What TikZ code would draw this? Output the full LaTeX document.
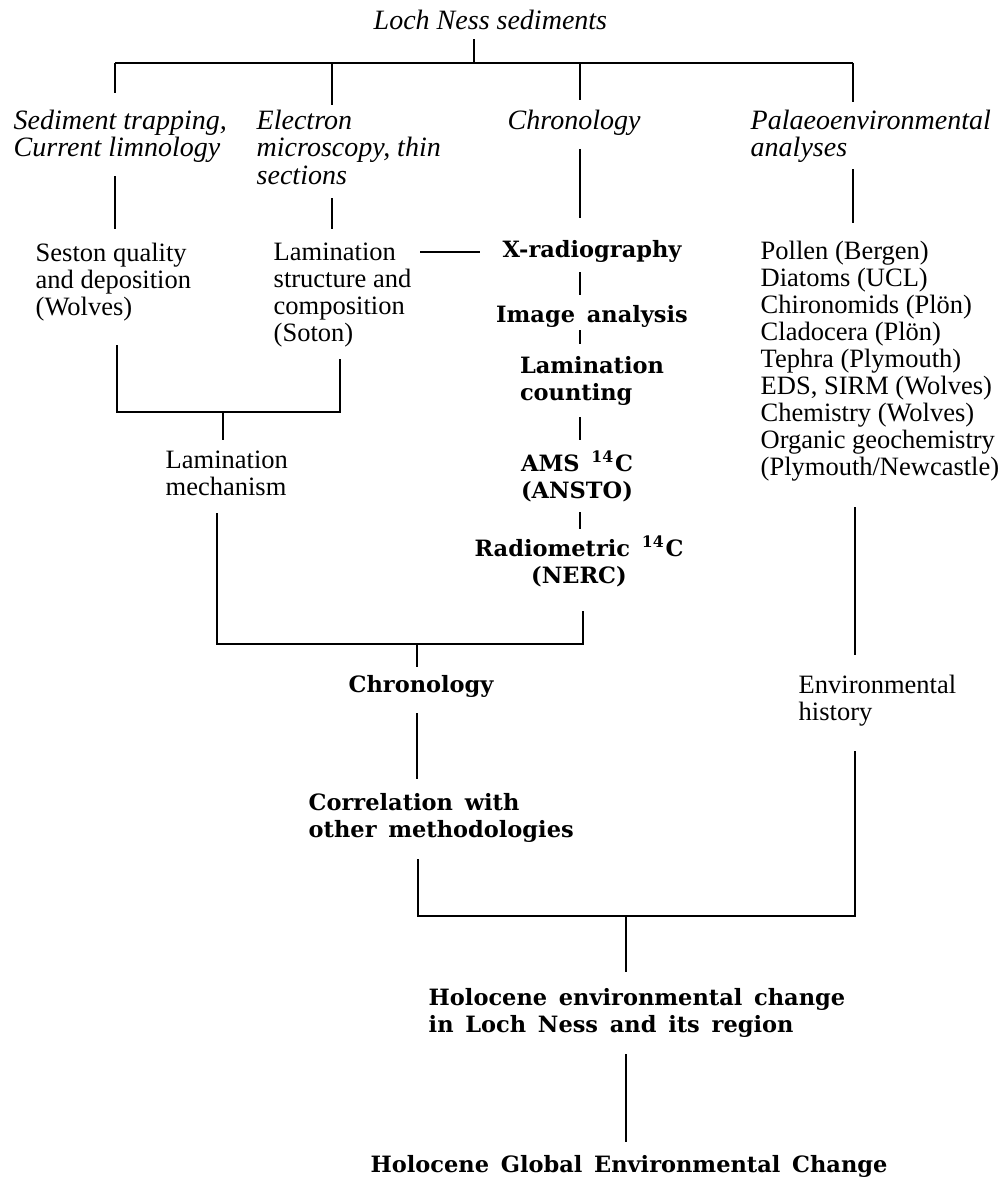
\documentclass[tikz,border=0pt]{standalone}
\usepackage{fontspec}
\setmainfont{Liberation Serif}
\newfontfamily\chronfont{DejaVu Serif}[WordSpace=1.5]
\usepackage{tikz}
\usetikzlibrary{calc, positioning}

\begin{document}
\begin{tikzpicture}[tx/.style={inner sep=0pt, anchor=north west, align=left, font=\fontsize{7.54}{7.68}\selectfont},
  ital/.style={tx, font=\fontsize{7.97}{7.82}\selectfont\itshape},
  bld/.style={tx, font=\chronfont\bfseries\fontsize{6.4}{7.68}\selectfont},
  stem/.style={thick, shorten <=.13cm, shorten >=.13cm}]
  \useasboundingbox (0,0) rectangle (10.06,-11.84);

  % headings
  \node[ital] (title) at (3.73,-0.09) {Loch Ness sediments};
  \node[ital] (sed) at (0.13,-1.09) {Sediment trapping,\\Current limnology};
  \node[ital] (elec) at (2.56,-1.09) {Electron\\microscopy, thin\\sections};
  \node[ital] (chron) at (5.07,-1.09) {Chronology};
  \node[ital] (palaeo) at (7.50,-1.09) {Palaeoenvironmental\\analyses};

  \node[tx] (seston) at (0.35,-2.42) {Seston quality\\and deposition\\(Wolves)};
  \node[tx] (lamstr) at (2.73,-2.42) {Lamination\\structure and\\composition\\(Soton)};
  \node[tx] (proxies) at (7.60,-2.40) {Pollen (Bergen)\\Diatoms (UCL)\\Chironomids (Plön)\\Cladocera (Plön)\\Tephra (Plymouth)\\EDS, SIRM (Wolves)\\Chemistry (Wolves)\\Organic geochemistry\\(Plymouth/Newcastle)};
  \node[tx] (lammech) at (1.65,-4.50) {Lamination\\mechanism};
  \node[tx] (envhist) at (7.98,-6.74) {Environmental\\history};

  % chronology column
  \node[bld, anchor=north] (xray) at (5.92,-2.40) {X-radiography};
  \node[bld, anchor=north] (imgan) at (5.92,-3.05) {Image analysis};
  \node[bld, anchor=north] (lamcount) at (5.92,-3.56) {Lamination\\counting};
  \node[bld, anchor=north, align=center] (ams) at (5.77,-4.50) {AMS \textsuperscript{14}C\\(ANSTO)};
  \node[bld, anchor=north, align=center] (radio) at (5.79,-5.35) {Radiometric \textsuperscript{14}C\\(NERC)};
  \node[bld] (chrono) at (3.48,-6.75) {Chronology};
  \node[bld] (correl) at (3.08,-7.93) {Correlation with\\other methodologies};
  \node[bld] (holo) at (4.28,-9.88) {Holocene environmental change\\in Loch Ness and its region};
  \node[bld, anchor=north] (global) at (6.29,-11.55) {Holocene Global Environmental Change};

  % joints
  \coordinate (jtop) at (4.74,-0.63);
  \coordinate (ja) at (1.15,-0.63);
  \coordinate (jb) at (3.32,-0.63);
  \coordinate (jc) at (5.80,-0.63);
  \coordinate (jd) at (8.53,-0.63);
  \coordinate (je) at (1.17,-4.12);
  \coordinate (jf) at (3.40,-4.12);
  \coordinate (jg) at (2.23,-4.12);
  \coordinate (jh) at (2.17,-6.44);
  \coordinate (ji) at (5.83,-6.44);
  \coordinate (jj) at (4.17,-6.44);
  \coordinate (jk) at (4.18,-9.16);
  \coordinate (jl) at (8.55,-9.16);
  \coordinate (jm) at (6.26,-9.16);

  \draw[stem, shorten <=.09cm, shorten >=0pt] (jtop |- title.south) -- (jtop);
  \draw[thick] (ja) -- (jd);
  \draw[stem, shorten <=0pt, shorten >=.16cm] (ja) -- (ja |- sed.north);
  \draw[stem, shorten <=0pt, shorten >=.04cm] (jb) -- (jb |- elec.north);
  \draw[stem, shorten <=0pt, shorten >=.09cm] (jc) -- (jc |- chron.north);
  \draw[stem, shorten <=0pt, shorten >=.07cm] (jd) -- (jd |- palaeo.north);

  \draw[stem] (ja |- sed.south) -- (ja |- seston.north);
  \draw[stem] (jb |- elec.south) -- (jb |- lamstr.north);
  \draw[stem, shorten >=.22cm] (jc |- chron.south) -- (jc |- xray.north);
  \draw[stem, shorten <=.06cm, shorten >=.17cm] (jd |- palaeo.south) -- (jd |- proxies.north);
  \draw[stem, shorten <=.08cm, shorten >=.22cm] ([yshift=-.1cm]lamstr.north east) -- ([yshift=-.1cm]lamstr.north east -| xray.west);

  \draw[stem, shorten <=.09cm, shorten >=.1cm] (jc |- xray.south) -- (jc |- imgan.north);
  \draw[stem, shorten <=.02cm, shorten >=.12cm] (jc |- imgan.south) -- (jc |- lamcount.north);
  \draw[stem, shorten <=.11cm, shorten >=.1cm] (jc |- lamcount.south) -- (jc |- ams.north);
  \draw[stem, shorten <=.1cm, shorten >=.06cm] (jc |- ams.south) -- (jc |- radio.north);

  \draw[thick, shorten <=.24cm, shorten >=.11cm] (je |- seston.south) -- (je) -- (jf) -- (jf |- lamstr.south);
  \draw[stem, shorten <=0pt, shorten >=.10cm] (jg) -- (jg |- lammech.north);
  \draw[thick, shorten <=.24cm, shorten >=.17cm] (ji |- radio.south) -- (ji) -- (jh) -- (jh |- lammech.south);
  \draw[stem, shorten <=0pt, shorten >=.08cm] (jj) -- (jj |- chrono.north);
  \draw[stem, shorten <=.15cm, shorten >=.14cm] (jj |- chrono.south) -- (jj |- correl.north);

  \draw[stem, shorten <=.26cm, shorten >=.19cm] (jl |- proxies.south) -- (jl |- envhist.north);
  \draw[thick, shorten <=.16cm, shorten >=.24cm] (jk |- correl.south) -- (jk) -- (jl) -- (jl |- envhist.south);
  \draw[stem, shorten <=0pt, shorten >=.16cm] (jm) -- (jm |- holo.north);
  \draw[stem, shorten <=.16cm, shorten >=.13cm] (jm |- holo.south) -- (jm |- global.north);
\end{tikzpicture}
\end{document}
